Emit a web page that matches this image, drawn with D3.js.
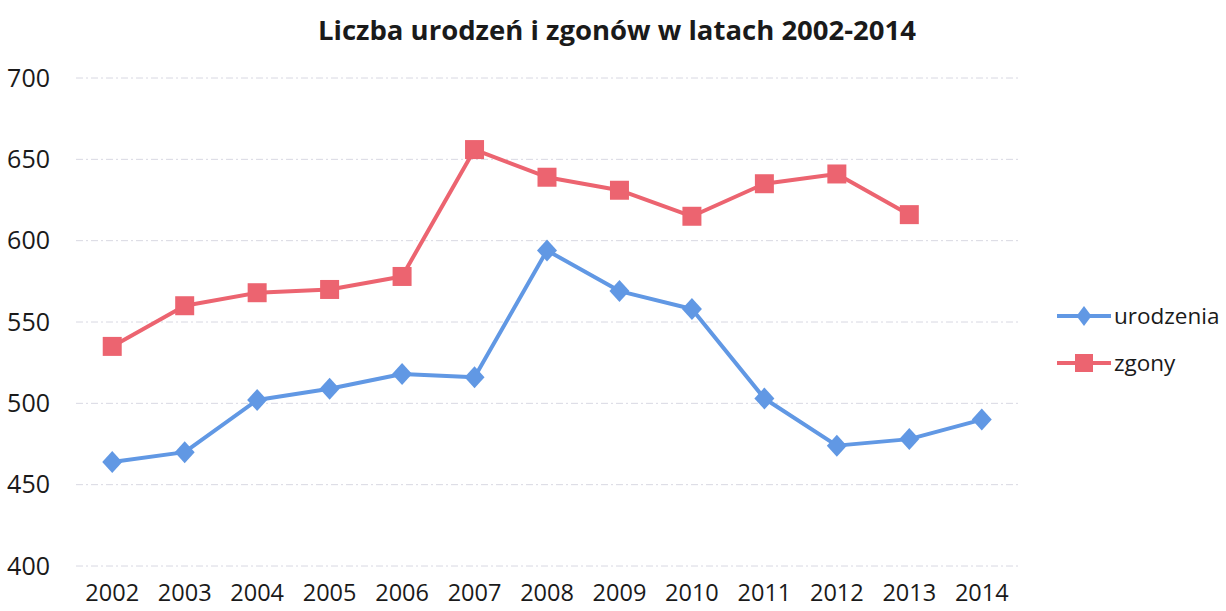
<!DOCTYPE html>
<html>
<head>
<meta charset="utf-8">
<script src="https://cdn.jsdelivr.net/npm/d3@7"></script>
<style>
  body { margin: 0; background: #fff; }
  svg { display: block; font-family: "Open Sans", sans-serif; }
</style>
</head>
<body>
<svg id="chart" width="1226" height="611"></svg>
<script>
// data
var years = ["2002","2003","2004","2005","2006","2007","2008","2009","2010","2011","2012","2013","2014"];
var urodzenia = [464, 470, 502, 509, 518, 516, 594, 569, 558, 503, 474, 478, 490];
var zgony = [535, 560, 568, 570, 578, 656, 639, 631, 615, 635, 641, 616, null];
var yTicks = [400, 450, 500, 550, 600, 650, 700];

var svg = d3.select("#chart"),
    width = +svg.attr("width"),
    height = +svg.attr("height");

var x = d3.scaleBand().domain(years).range([76, 1018]);
var y = d3.scaleLinear().domain([400, 700]).range([566, 78]);

var blue = "#6198e4", red = "#ec6470";

// diamond a bit wider than d3's own
function diamond(w, h) {
    return "M0," + (-h / 2) + "L" + (w / 2) + ",0L0," + (h / 2) + "L" + (-w / 2) + ",0Z";
}
function square(s) {
    return "M" + (-s / 2) + "," + (-s / 2) + "h" + s + "v" + s + "h" + (-s) + "Z";
}

// title
svg.append("text")
    .attr("x", 617).attr("y", 40)
    .attr("text-anchor", "middle")
    .attr("font-size", 27.5).attr("font-weight", "bold")
    .attr("fill", "#1a1a1a")
    .text("Liczba urodzeń i zgonów w latach 2002-2014");

// gridlines
svg.append("g")
    .selectAll("line")
    .data(yTicks)
    .join("line")
    .attr("x1", 76).attr("x2", 1018)
    .attr("y1", function (d) { return y(d); })
    .attr("y2", function (d) { return y(d); })
    .attr("stroke", "#d8d8e2")
    .attr("stroke-width", 1)
    .attr("stroke-dasharray", "7,3,2,3");

// y axis
var yAxis = svg.append("g")
    .attr("transform", "translate(54,0)")
    .call(d3.axisLeft(y).tickValues(yTicks).tickSize(0).tickPadding(4));
yAxis.select(".domain").remove();
yAxis.selectAll("text")
    .attr("font-size", 25).attr("fill", "#1a1a1a")
    .attr("font-family", "Open Sans, sans-serif");

// x axis
var xAxis = svg.append("g")
    .attr("transform", "translate(0,580)")
    .call(d3.axisBottom(x).tickSize(0).tickPadding(4));
xAxis.select(".domain").remove();
xAxis.selectAll("text")
    .attr("font-size", 23.5).attr("fill", "#1a1a1a")
    .attr("font-family", "Open Sans, sans-serif");

var cx = function (i) { return x(years[i]) + x.bandwidth() / 2; };

function drawSeries(values, color, shapePath) {
    var pts = values.map(function (v, i) { return { i: i, v: v }; })
        .filter(function (d) { return d.v != null; });
    var line = d3.line()
        .x(function (d) { return cx(d.i); })
        .y(function (d) { return y(d.v); });
    svg.append("path")
        .datum(pts)
        .attr("d", line)
        .attr("fill", "none")
        .attr("stroke", color)
        .attr("stroke-width", 4)
        .attr("stroke-linejoin", "round");
    svg.append("g")
        .selectAll("path")
        .data(pts)
        .join("path")
        .attr("transform", function (d) { return "translate(" + cx(d.i) + "," + y(d.v) + ")"; })
        .attr("d", shapePath)
        .attr("fill", color);
}

drawSeries(urodzenia, blue, diamond(20, 22));
drawSeries(zgony, red, square(19));

// legend
var legend = [
    { name: "urodzenia", color: blue, shape: diamond(15, 20), y: 316 },
    { name: "zgony", color: red, shape: square(18), y: 363 }
];
var lg = svg.append("g").selectAll("g").data(legend).join("g");
lg.append("line")
    .attr("x1", 1057).attr("x2", 1111)
    .attr("y1", function (d) { return d.y; })
    .attr("y2", function (d) { return d.y; })
    .attr("stroke", function (d) { return d.color; })
    .attr("stroke-width", 4);
lg.append("path")
    .attr("transform", function (d) { return "translate(1084," + d.y + ")"; })
    .attr("d", function (d) { return d.shape; })
    .attr("fill", function (d) { return d.color; });
lg.append("text")
    .attr("x", 1114)
    .attr("y", function (d) { return d.y; })
    .attr("dy", "0.35em")
    .attr("font-size", 22.5)
    .attr("fill", "#1a1a1a")
    .text(function (d) { return d.name; });
</script>
</body>
</html>
